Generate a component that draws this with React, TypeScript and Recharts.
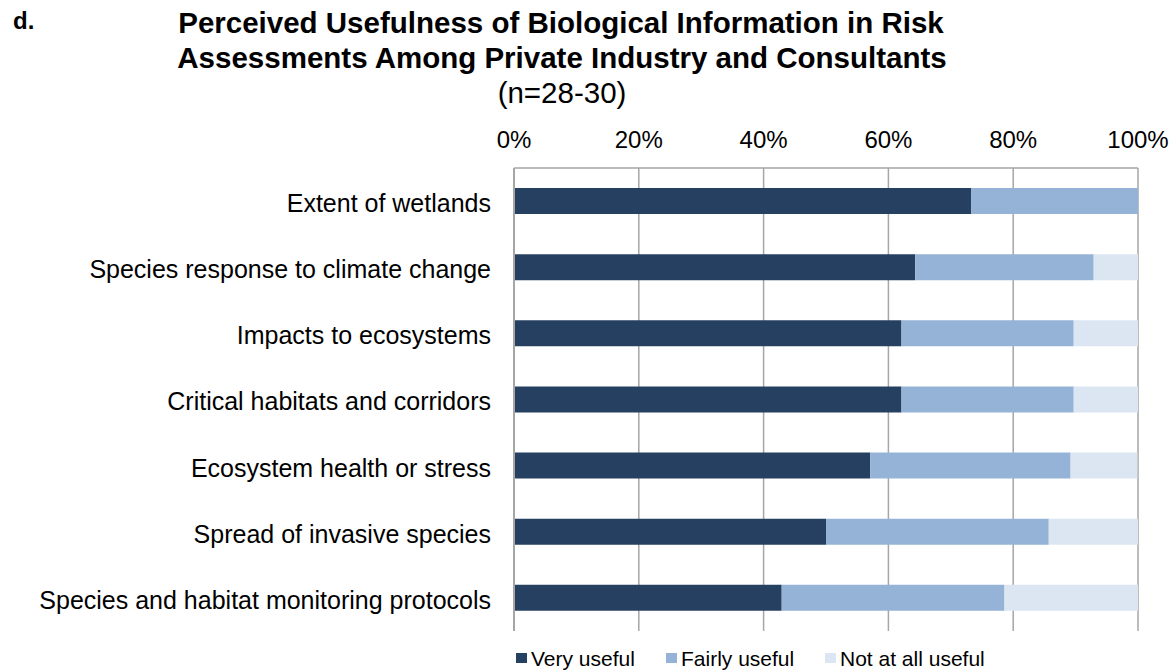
import React from 'react';
import { BarChart, Bar, XAxis, YAxis, CartesianGrid } from 'recharts';

const categories = [
  'Extent of wetlands',
  'Species response to climate change',
  'Impacts to ecosystems',
  'Critical habitats and corridors',
  'Ecosystem health or stress',
  'Spread of invasive species',
  'Species and habitat monitoring protocols',
];
const veryUseful = [73.3, 64.3, 62.1, 62.1, 57.1, 50.0, 42.9];
const fairlyUseful = [26.7, 28.6, 27.6, 27.6, 32.1, 35.7, 35.7];
const notUseful = [0, 7.1, 10.3, 10.3, 10.7, 14.3, 21.4];
const xTicks = [0, 20, 40, 60, 80, 100];

const seriesNames = ['Very useful', 'Fairly useful', 'Not at all useful'];
const colors = ['#264061', '#95B3D7', '#DCE6F2'];
const legendX = [516, 666, 825];

const data = categories.map((c, i) => ({
  name: c,
  very: veryUseful[i],
  fairly: fairlyUseful[i],
  not: notUseful[i],
}));

const FONT = '"Liberation Sans", Arial, Helvetica, sans-serif';

export default function App() {
  return (
    <div style={{ position: 'absolute', left: 0, top: 0, width: 1175, height: 671, background: '#fff', fontFamily: FONT }}>
      <div style={{ position: 'absolute', left: 0, top: 0 }}>
        <BarChart
          width={1175}
          height={671}
          data={data}
          layout="vertical"
          margin={{ top: 118, right: 37, bottom: 40, left: 0 }}
          barSize={26}
        >
          <CartesianGrid horizontal={false} vertical={true} stroke="#A6A6A6" strokeWidth={1.5} />
          <XAxis
            type="number"
            orientation="top"
            domain={[0, 100]}
            ticks={xTicks}
            tickFormatter={(v) => `${v}%`}
            axisLine={{ stroke: '#A6A6A6', strokeWidth: 1.5 }}
            tickLine={false}
            tickSize={0}
            tickMargin={20}
            height={50}
            interval={0}
            tick={{ fill: '#000', fontSize: 24, fontFamily: FONT }}
          />
          <YAxis
            type="category"
            dataKey="name"
            width={514}
            axisLine={{ stroke: '#A6A6A6', strokeWidth: 2 }}
            tickLine={false}
            tickSize={0}
            tickMargin={23}
            interval={0}
            tick={{ fill: '#000', fontSize: 25, fontFamily: FONT, dy: 2 }}
          />
          <Bar dataKey="very" name={seriesNames[0]} stackId="a" fill={colors[0]} isAnimationActive={false} />
          <Bar dataKey="fairly" name={seriesNames[1]} stackId="a" fill={colors[1]} isAnimationActive={false} />
          <Bar dataKey="not" name={seriesNames[2]} stackId="a" fill={colors[2]} isAnimationActive={false} />
        </BarChart>
      </div>
      <svg width={1175} height={671} style={{ position: 'absolute', left: 0, top: 0, pointerEvents: 'none' }}>
        <text x={13} y={29} fontFamily={FONT} fontWeight="bold" fontSize={24} fill="#000">d.</text>
        <text x={561} y={33} textAnchor="middle" fontFamily={FONT} fontWeight="bold" fontSize={29.5} fill="#000">
          Perceived Usefulness of Biological Information in Risk
        </text>
        <text x={562} y={68} textAnchor="middle" fontFamily={FONT} fontWeight="bold" fontSize={29.5} fill="#000">
          Assessments Among Private Industry and Consultants
        </text>
        <text x={562} y={103} textAnchor="middle" fontFamily={FONT} fontSize={29.5} fill="#000">(n=28-30)</text>
        {seriesNames.map((n, i) => (
          <g key={n}>
            <rect x={legendX[i]} y={653} width={11} height={10} fill={colors[i]} />
            <text x={legendX[i] + 15} y={666} fontFamily={FONT} fontSize={21} fill="#000">{n}</text>
          </g>
        ))}
      </svg>
    </div>
  );
}
